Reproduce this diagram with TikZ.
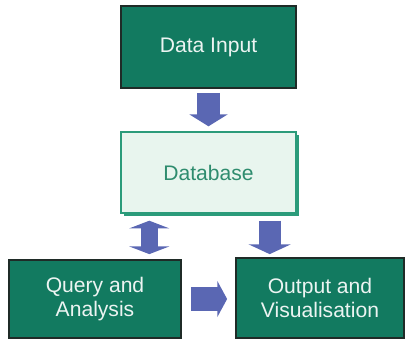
\documentclass[tikz,border=0pt]{standalone}
\usepackage{fontspec}
\setmainfont{Liberation Sans}
\usepackage{tikz}
\usetikzlibrary{arrows.meta}
\usetikzlibrary{shadows}
\pgfdeclarelayer{edgelayer}
\pgfdeclarelayer{nodelayer}
\pgfsetlayers{edgelayer,nodelayer,main}
\definecolor{boxgreen}{HTML}{127A60}
\definecolor{boxline}{HTML}{1F2B27}
\definecolor{dbfill}{HTML}{E8F5EE}
\definecolor{dbline}{HTML}{2B9B7A}
\definecolor{dbtext}{HTML}{2E8C6E}
\definecolor{arrowblue}{HTML}{5A67B3}
\tikzstyle{none}=[inner sep=0pt]
\tikzstyle{dark_box}=[rectangle,fill=boxgreen,draw=boxline,line width=2.5pt,text=white!92!boxgreen,align=center,font=\fontsize{30}{33}\selectfont]
\tikzstyle{db_box}=[rectangle,fill=dbfill,draw=dbline,line width=2pt,text=dbtext,align=center,font=\fontsize{30}{33}\selectfont,drop shadow={shadow xshift=0.15cm,shadow yshift=-0.15cm,fill=dbline,opacity=1}]
\tikzstyle{flow}=[draw=arrowblue,line width=34pt,-{Triangle[width=54pt,length=17pt]}]
\tikzstyle{both_flow}=[draw=arrowblue,line width=25pt,{Triangle[width=57pt,length=11pt]}-{Triangle[width=57pt,length=11pt]}]

\begin{document}
\begin{tikzpicture}
	\useasboundingbox (0, 0) rectangle (20.3, 17.05);
	\begin{pgfonlayer}{nodelayer}
		\node [style={dark_box}, minimum width=8.75cm, minimum height=4.1cm] (0) at (10.425, 14.7) {Data Input};
		\node [style={db_box}, minimum width=8.75cm, minimum height=4.05cm] (1) at (10.425, 8.425) {Database};
		\node [style={dark_box}, minimum width=8.6cm, minimum height=3.9cm] (2) at (4.75, 2.1) {Query and\\Analysis};
		\node [style={dark_box}, minimum width=8.4cm, minimum height=4cm] (3) at (16, 2.15) {Output and\\Visualisation};
	\end{pgfonlayer}
	\begin{pgfonlayer}{edgelayer}
		\draw [style=flow, shorten <=0.2cm, shorten >=0.25cm] (0) to (1);
		\draw [style={both_flow}, shorten <=0.35cm, shorten >=0.25cm] ([xshift=1.45cm]1.south west) to ([xshift=1.45cm]1.south west |- 2.north);
		\draw [style=flow, line width=31pt, -{Triangle[width=60pt,length=14pt]}, shorten <=0.35cm, shorten >=0.15cm] ([xshift=-1.35cm]1.south east) to ([xshift=-1.35cm]1.south east |- 3.north);
		\draw [style=flow, -{Triangle[width=51pt,length=14pt]}, shorten <=0.45cm, shorten >=0.4cm] (2.east) to (2.east -| 3.west);
	\end{pgfonlayer}
\end{tikzpicture}
\end{document}
